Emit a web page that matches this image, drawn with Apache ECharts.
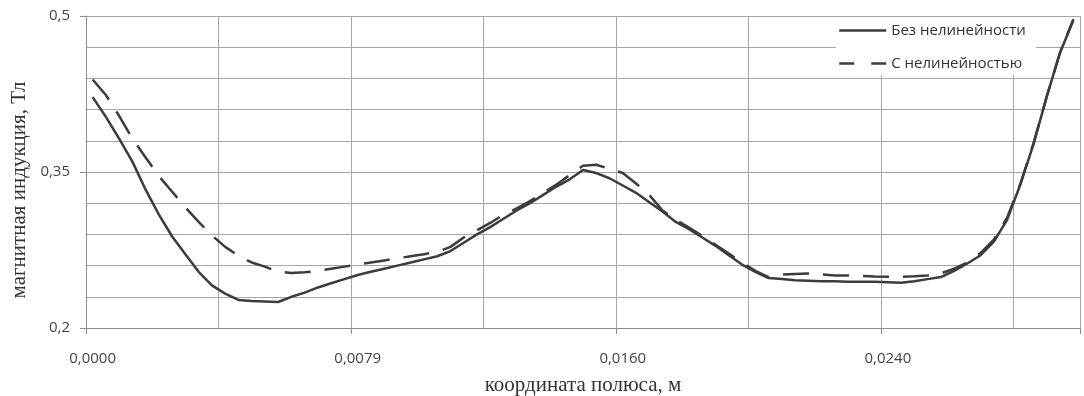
<!DOCTYPE html>
<html>
<head>
<meta charset="utf-8">
<script src="https://cdn.jsdelivr.net/npm/echarts@6/dist/echarts.min.js"></script>
<style>
  html, body { margin: 0; padding: 0; background: #fff; }
  #chart { width: 1084px; height: 396px; }
</style>
</head>
<body>
<div id="chart"></div>
<script>
// Pole coordinate, m (categories)
var xCoords = [
  0.0000,0.0004,0.0008,0.0012,0.0016,0.0020,0.0024,0.0028,0.0032,0.0036,
  0.0040,0.0044,0.0048,0.0051,0.0055,0.0059,0.0063,0.0067,0.0071,0.0075,
  0.0079,0.0083,0.0087,0.0091,0.0095,0.0099,0.0103,0.0107,0.0112,0.0116,
  0.0120,0.0124,0.0128,0.0132,0.0136,0.0140,0.0144,0.0148,0.0152,0.0156,
  0.0160,0.0164,0.0168,0.0172,0.0176,0.0180,0.0184,0.0188,0.0192,0.0196,
  0.0200,0.0204,0.0208,0.0212,0.0216,0.0220,0.0224,0.0228,0.0232,0.0236,
  0.0240,0.0244,0.0248,0.0252,0.0256,0.0260,0.0264,0.0268,0.0272,0.0276,
  0.0280,0.0284,0.0288,0.0292,0.0296
];
// Без нелинейности
var linearB = [
  0.422,0.403,0.382,0.360,0.333,0.309,0.288,0.271,0.254,0.241,
  0.233,0.227,0.226,0.2255,0.225,0.230,0.234,0.239,0.243,0.247,
  0.251,0.254,0.257,0.260,0.263,0.266,0.269,0.274,0.282,0.290,
  0.297,0.305,0.313,0.320,0.328,0.336,0.343,0.352,0.349,0.344,
  0.337,0.330,0.321,0.312,0.302,0.295,0.287,0.279,0.270,0.261,
  0.254,0.248,0.247,0.246,0.2455,0.245,0.245,0.2445,0.2445,0.2445,
  0.244,0.2435,0.245,0.247,0.249,0.255,0.262,0.270,0.283,0.304,
  0.338,0.377,0.423,0.465,0.496
];
// С нелинейностью
var nonlinearB = [
  0.439,0.424,0.404,0.382,0.364,0.346,0.331,0.316,0.302,0.289,
  0.278,0.2695,0.2630,0.259,0.254,0.253,0.2535,0.255,0.257,0.259,
  0.261,0.263,0.265,0.267,0.269,0.271,0.273,0.278,0.287,0.294,
  0.301,0.309,0.315,0.322,0.330,0.338,0.347,0.356,0.357,0.353,
  0.349,0.339,0.328,0.313,0.304,0.2965,0.2885,0.280,0.2715,0.263,
  0.255,0.249,0.2515,0.252,0.2525,0.2515,0.2505,0.2505,0.250,0.2495,
  0.2493,0.2493,0.2497,0.2505,0.2525,0.257,0.263,0.272,0.285,0.306,
  0.3385,0.378,0.423,0.465,0.497
];
var yGridValues = [0.2,0.23,0.26,0.29,0.32,0.35,0.38,0.41,0.44,0.47,0.5];
var yLabelValues = [0.2,0.35,0.5];
var seriesNames = ['Без нелинейности','С нелинейностью'];

var chart = echarts.init(document.getElementById('chart'), null, {renderer: 'canvas'});
var lineColor = '#3c3c3c';
var gridColor = '#a6a6a6';
var sansFont = '"Open Sans", "Noto Sans", sans-serif';
var serifFont = '"Liberation Serif", "DejaVu Serif", serif';

chart.setOption({
  animation: false,
  backgroundColor: '#ffffff',
  grid: { left: 86, right: 4, top: 16, bottom: 68, containLabel: false, outerBoundsMode: 'none' },
  legend: {
    orient: 'vertical',
    left: 836, top: 17,
    padding: [6, 10, 4, 2],
    itemGap: 18,
    itemWidth: 47,
    itemHeight: 14,
    backgroundColor: '#ffffff',
    textStyle: { fontFamily: sansFont, fontSize: 15, color: '#333' },
    itemStyle: { opacity: 0 },
    data: [
      { name: seriesNames[0], itemStyle: { opacity: 0 }, lineStyle: { color: lineColor, width: 2.5, type: 'solid' } },
      { name: seriesNames[1], itemStyle: { opacity: 0 }, lineStyle: { color: lineColor, width: 2.5, type: [15, 17] } }
    ]
  },
  xAxis: {
    type: 'category',
    boundaryGap: true,
    data: xCoords,
    name: 'координата полюса, м',
    nameLocation: 'middle',
    nameGap: 47,
    nameTextStyle: { fontFamily: serifFont, fontSize: 21, color: '#333' },
    axisLine: { show: true, lineStyle: { color: '#8c8c8c', width: 1 } },
    axisTick: { show: true, interval: 19, length: 6, lineStyle: { color: '#8c8c8c' } },
    axisLabel: {
      interval: 19,
      margin: 23,
      fontFamily: sansFont, fontSize: 15, color: '#444',
      formatter: function (v, i) { return xCoords[i].toFixed(4).replace('.', ','); }
    },
    splitLine: { show: true, interval: 9, lineStyle: { color: gridColor, width: 1 } }
  },
  yAxis: [
    {
      type: 'value',
      min: 0.2, max: 0.5,
      name: 'магнитная индукция, Тл',
      nameLocation: 'middle',
      nameGap: 56,
      nameTextStyle: { fontFamily: serifFont, fontSize: 21, color: '#333', padding: [0, 36, 0, 0] },
      axisLine: { show: true, lineStyle: { color: '#8c8c8c', width: 1 } },
      axisTick: { show: true, length: 6, customValues: yLabelValues, lineStyle: { color: '#8c8c8c' } },
      axisLabel: {
        customValues: yLabelValues,
        margin: 16,
        fontFamily: sansFont, fontSize: 15, color: '#444',
        formatter: function (v) { return String(+v.toFixed(2)).replace('.', ','); }
      },
      splitLine: { show: false }
    },
    {
      type: 'value',
      min: 0.2, max: 0.5,
      position: 'left',
      axisLine: { show: false },
      axisTick: { show: false, customValues: yGridValues },
      axisLabel: { show: false, customValues: yGridValues },
      splitLine: { show: true, lineStyle: { color: gridColor, width: 1 } }
    }
  ],
  series: [
    {
      name: seriesNames[0],
      type: 'line',
      data: linearB,
      yAxisIndex: 0,
      symbol: 'none',
      lineStyle: { color: lineColor, width: 2.5, type: 'solid' },
      itemStyle: { color: lineColor },
      z: 3
    },
    {
      name: seriesNames[1],
      type: 'line',
      data: nonlinearB,
      yAxisIndex: 0,
      symbol: 'none',
      lineStyle: { color: lineColor, width: 2.5, type: [26, 14] },
      itemStyle: { color: lineColor },
      z: 4
    }
  ]
});
</script>
</body>
</html>
